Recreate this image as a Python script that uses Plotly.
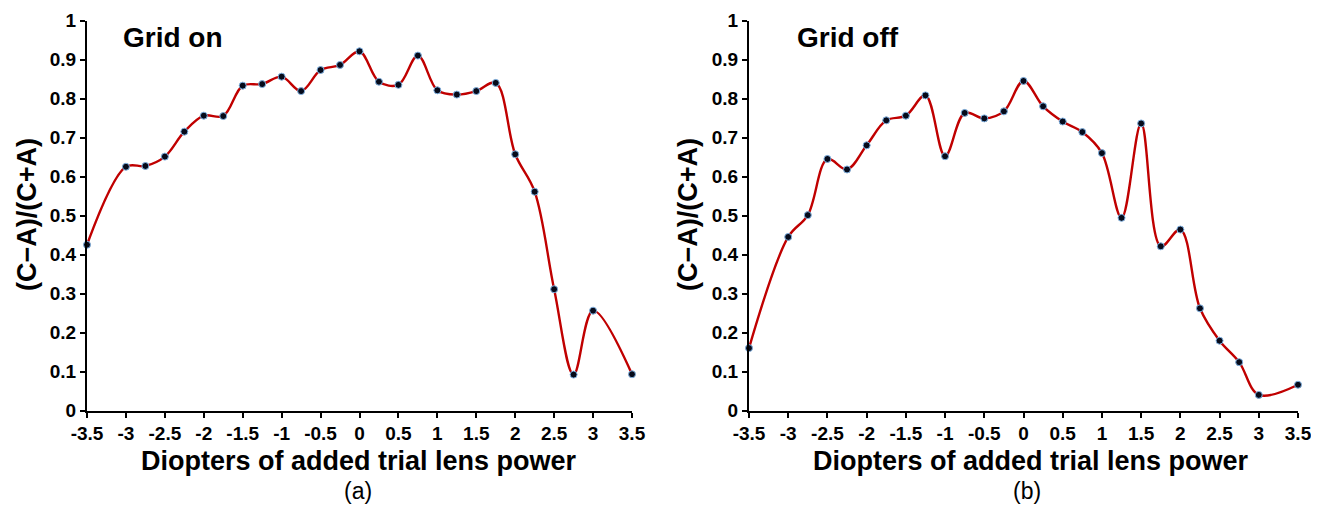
import plotly.graph_objects as go

x_on = [-3.5, -3, -2.75, -2.5, -2.25, -2, -1.75, -1.5, -1.25, -1, -0.75, -0.5, -0.25, 0,
        0.25, 0.5, 0.75, 1, 1.25, 1.5, 1.75, 2, 2.25, 2.5, 2.75, 3, 3.5]
y_on = [0.425, 0.625, 0.627, 0.651, 0.715, 0.756, 0.755, 0.833, 0.837, 0.856, 0.819, 0.873, 0.886, 0.921,
        0.843, 0.835, 0.910, 0.821, 0.810, 0.819, 0.840, 0.657, 0.561, 0.311, 0.092, 0.256, 0.093]

x_off = [-3.5, -3, -2.75, -2.5, -2.25, -2, -1.75, -1.5, -1.25, -1, -0.75, -0.5, -0.25, 0,
         0.25, 0.5, 0.75, 1, 1.25, 1.5, 1.75, 2, 2.25, 2.5, 2.75, 3, 3.5]
y_off = [0.160, 0.445, 0.501, 0.645, 0.618, 0.680, 0.744, 0.756, 0.808, 0.652, 0.763, 0.749, 0.767, 0.845,
         0.780, 0.741, 0.714, 0.660, 0.494, 0.736, 0.421, 0.464, 0.262, 0.179, 0.124, 0.040, 0.066]

x_ticks = [-3.5, -3, -2.5, -2, -1.5, -1, -0.5, 0, 0.5, 1, 1.5, 2, 2.5, 3, 3.5]
x_tick_text = ["-3.5", "-3", "-2.5", "-2", "-1.5", "-1", "-0.5", "0", "0.5", "1", "1.5", "2", "2.5", "3", "3.5"]
y_ticks = [0, 0.1, 0.2, 0.3, 0.4, 0.5, 0.6, 0.7, 0.8, 0.9, 1]
y_tick_text = ["0", "0.1", "0.2", "0.3", "0.4", "0.5", "0.6", "0.7", "0.8", "0.9", "1"]

panel_titles = ["Grid on", "Grid off"]
panel_labels = ["(a)", "(b)"]
x_title = "Diopters of added trial lens power"
y_title = "(C\u2212A)/(C+A)"

W, H = 1319, 507
OFF = 8  # page body margin
FW, FH = W - OFF, H - OFF
FONT = "Liberation Sans, Arial, sans-serif"


def px(xr):
    return (xr - OFF) / FW


def py(yr):
    return 1 - (yr - OFF) / FH


fig = go.Figure()

panels = [
    dict(x=x_on, y=y_on, x0=87, x1=632, xa="x", ya="y", ytx=27, ttx=123, xtc=359, lbc=358),
    dict(x=x_off, y=y_off, x0=749, x1=1298, xa="x2", ya="y2", ytx=688, ttx=797, xtc=1031, lbc=1027),
]
ydom = [py(410.5), py(20.5)]

for p in panels:
    fig.add_trace(go.Scatter(
        x=p["x"], y=p["y"], xaxis=p["xa"], yaxis=p["ya"],
        mode="lines+markers",
        line=dict(color="#c00000", width=2.4, shape="spline", smoothing=1.0),
        marker=dict(color="#050a1a", size=7, line=dict(color="#7fb0e0", width=1)),
        showlegend=False, cliponaxis=False,
    ))

axis_common = dict(
    showgrid=False, zeroline=False, showline=True, linecolor="black", linewidth=2,
    ticks="outside", ticklen=5, tickwidth=2, tickcolor="black", automargin=False,
    tickfont=dict(family=FONT, size=19, color="black", weight="bold"),
)

for i, p in enumerate(panels):
    sfx = "" if i == 0 else str(i + 1)
    fig.layout["xaxis" + sfx] = dict(
        axis_common, domain=[px(p["x0"]), px(p["x1"])], range=[-3.5, 3.5], anchor="y" + sfx,
        tickmode="array", tickvals=x_ticks, ticktext=x_tick_text,
    )
    fig.layout["yaxis" + sfx] = dict(
        axis_common, domain=ydom, range=[0, 1], anchor="x" + sfx,
        tickmode="array", tickvals=y_ticks, ticktext=y_tick_text,
    )
    fig.add_annotation(
        text=x_title, xref="paper", yref="paper",
        x=px(p["xtc"]), y=py(461), xanchor="center", yanchor="middle",
        showarrow=False, font=dict(family=FONT, size=27, color="black", weight="bold"),
    )
    fig.add_annotation(
        text=y_title, xref="paper", yref="paper", textangle=-90,
        x=px(p["ytx"]), y=py(215), xanchor="center", yanchor="middle",
        showarrow=False, font=dict(family=FONT, size=27, color="black", weight="bold"),
    )
    fig.add_annotation(
        text=panel_titles[i], xref="paper", yref="paper",
        x=px(p["ttx"] - 2), y=py(38), xanchor="left", yanchor="middle",
        showarrow=False, font=dict(family=FONT, size=28, color="black", weight="bold"),
    )
    fig.add_annotation(
        text=panel_labels[i], xref="paper", yref="paper",
        x=px(p["lbc"]), y=py(491), xanchor="center", yanchor="middle",
        showarrow=False, font=dict(family=FONT, size=23, color="black"),
    )

fig.update_layout(
    width=FW, height=FH, margin=dict(l=0, r=0, t=0, b=0),
    paper_bgcolor="white", plot_bgcolor="white",
)

fig.write_html("out.html")
